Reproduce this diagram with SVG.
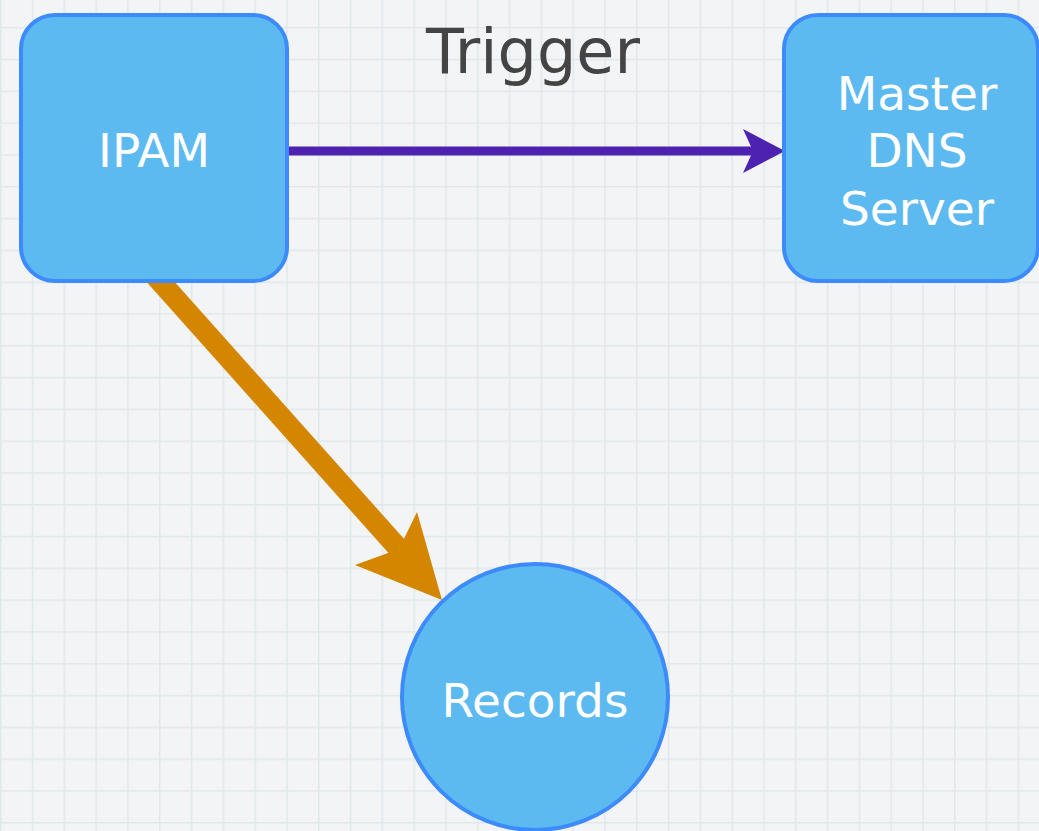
<svg xmlns="http://www.w3.org/2000/svg" width="1039" height="831" viewBox="0 0 1039 831">
<style>
.node{fill:#5dbaf0;stroke:#3d8bfb;stroke-width:4}
.lbl{font-family:"DejaVu Sans",Verdana,sans-serif;font-size:47px;fill:#ffffff;text-anchor:middle}
.elbl{font-family:"DejaVu Sans",Verdana,sans-serif;font-size:62px;fill:#444444;text-anchor:middle}
</style>
<defs>
<pattern id="grid" patternUnits="userSpaceOnUse" x="0" y="27" width="31.8" height="31.8">
<path d="M0.75 0V31.8M0 0.75H31.8" stroke="#e0e8ec" stroke-width="1.5" fill="none"/>
</pattern>
</defs>
<rect width="1039" height="831" fill="#f3f4f5"/>
<rect width="1039" height="831" fill="url(#grid)"/>
<g id="connectors">
<line x1="150" y1="270" x2="399" y2="549" stroke="#d58600" stroke-width="21"/>
<polygon points="442,600 417,512 399,549 355,565" fill="#d58600"/>
<line x1="287" y1="151" x2="755" y2="151" stroke="#4e22b1" stroke-width="9"/>
<polygon points="785,151 743,129 753,151 743,173" fill="#4e22b1"/>
<text class="elbl" x="533" y="73">Trigger</text>
</g>
<g id="ipam">
<rect class="node" x="21" y="15" width="266" height="266" rx="34"/>
<text class="lbl" x="154" y="167">IPAM</text>
</g>
<g id="master-dns">
<rect class="node" x="784" y="15" width="254" height="266" rx="34"/>
<text class="lbl" x="917" y="110">Master</text>
<text class="lbl" x="917" y="167">DNS</text>
<text class="lbl" x="917" y="225">Server</text>
</g>
<g id="records">
<circle class="node" cx="535" cy="697" r="133"/>
<text class="lbl" x="535" y="717">Records</text>
</g>
</svg>
